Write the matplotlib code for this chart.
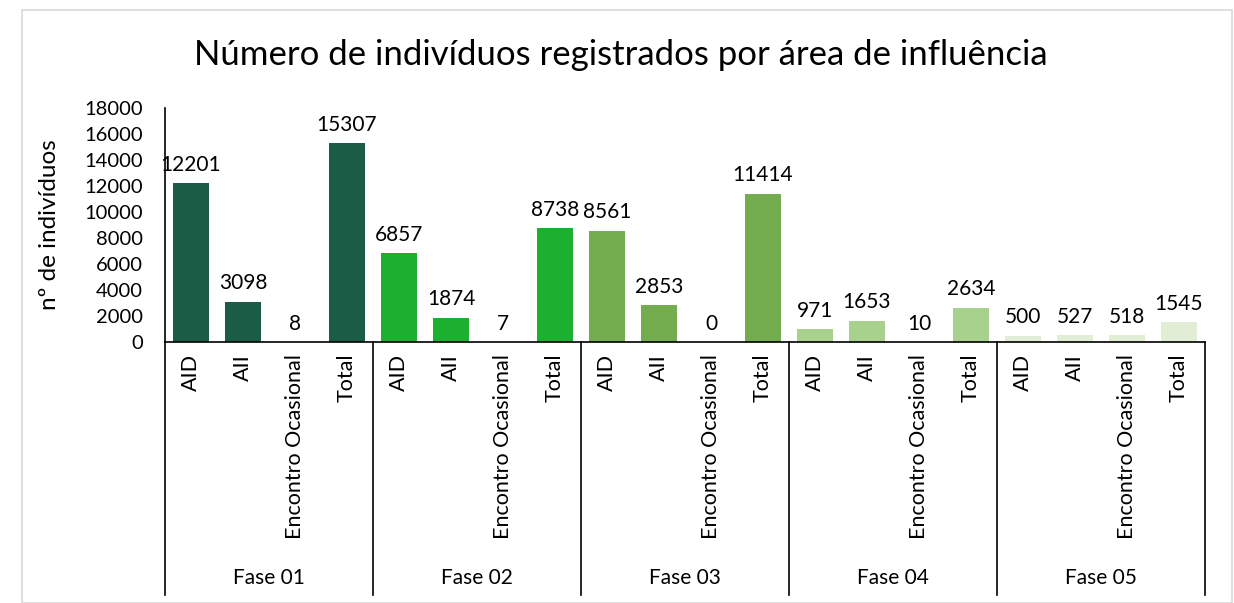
import matplotlib.pyplot as plt
import matplotlib.patches as patches
import matplotlib.transforms as mtransforms

plt.rcParams['font.family'] = ['Lato', 'DejaVu Sans']

# dados
fases = ['Fase 01', 'Fase 02', 'Fase 03', 'Fase 04', 'Fase 05']
categorias = ['AID', 'AII', 'Encontro Ocasional', 'Total']
valores = [
    [12201, 3098, 8, 15307],
    [6857, 1874, 7, 8738],
    [8561, 2853, 0, 11414],
    [971, 1653, 10, 2634],
    [500, 527, 518, 1545],
]
cores = ['#1a5c45', '#1daf2f', '#74ad4f', '#a9d18e', '#e2edd6']
y_ticks = list(range(0, 18001, 2000))

W, H = 1234, 603
fig = plt.figure(figsize=(W / 100, H / 100), dpi=100)
fig.patch.set_facecolor('white')

# moldura do gráfico
fig.patches.append(patches.Rectangle((22 / W, 0), (1232 - 22) / W, 1 - 10 / H,
                                     transform=fig.transFigure, fill=False,
                                     edgecolor='#d9d9d9', linewidth=1.2))

ax = fig.add_axes([165 / W, 1 - 342 / H, (1205 - 165) / W, (342 - 108) / H])

n = len(categorias)
x = 0
for g, (fase, vals) in enumerate(zip(fases, valores)):
    for c, v in enumerate(vals):
        ax.bar(x, v, width=0.69, color=cores[g], zorder=2)
        ax.annotate(str(v), (x, v), xytext=(0, 6), textcoords='offset points',
                    ha='center', va='bottom', fontsize=15)
        x += 1

total = len(fases) * n
ax.set_xlim(-0.5, total - 0.5)
ax.set_ylim(0, 18000)
ax.set_yticks(y_ticks)
ax.set_yticklabels([str(t) for t in y_ticks], fontsize=14.5)
ax.tick_params(axis='y', length=0, pad=16)
ax.set_xticks([])
for s in ['top', 'right']:
    ax.spines[s].set_visible(False)
ax.spines['left'].set_linewidth(1.2)
ax.spines['bottom'].set_linewidth(1.2)

ax.set_ylabel('nº de indivíduos', fontsize=17.5)
ax.yaxis.set_label_coords((60 - 165) / 1040, 0.5)

trans = mtransforms.blended_transform_factory(ax.transData, ax.transAxes)
sep_bottom = -(595 - 342) / 234
for g in range(len(fases) + 1):
    xs = g * n - 0.5
    ax.plot([xs, xs], [0, sep_bottom], transform=trans, color='black',
            linewidth=1.2, clip_on=False)

x = 0
for g, fase in enumerate(fases):
    for c, cat in enumerate(categorias):
        ax.text(x, -12 / 234, cat, transform=trans, rotation=90, ha='center',
                va='top', fontsize=15.5)
        x += 1
    ax.text(g * n + (n - 1) / 2, -(578 - 342) / 234, fase, transform=trans,
            ha='center', va='center', fontsize=15)

fig.text(621 / W, 1 - 55 / H, 'Número de indivíduos registrados por área de influência',
         ha='center', va='center', fontsize=25)

fig.savefig('out.png', dpi=100)
